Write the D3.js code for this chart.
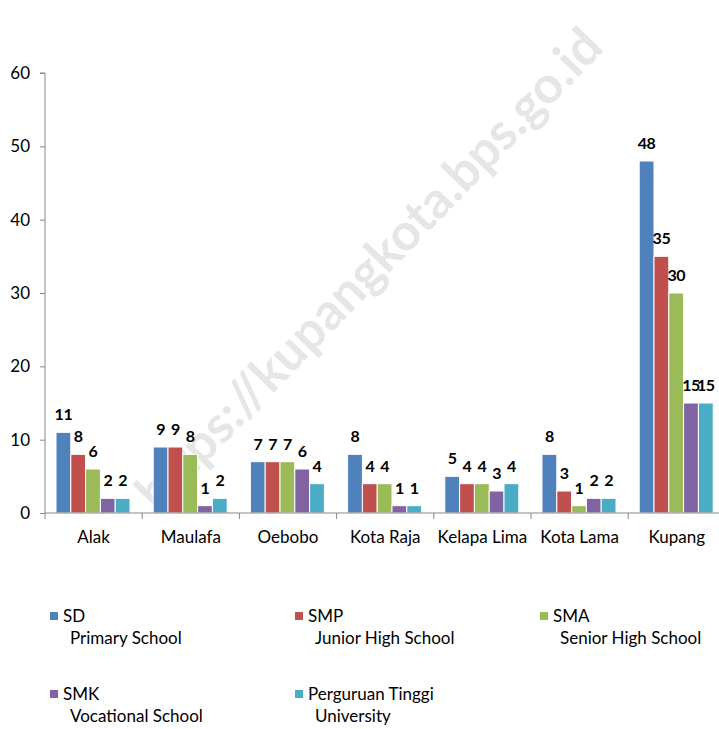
<!DOCTYPE html>
<html>
<head>
<meta charset="utf-8">
<script src="https://cdn.jsdelivr.net/npm/d3@7"></script>
<style>
  body { margin: 0; background: #fff; }
  svg { display: block; font-family: Lato, "Open Sans", sans-serif; }
</style>
</head>
<body>
<div id="chart"></div>
<script>
// data
const districts = ["Alak", "Maulafa", "Oebobo", "Kota Raja", "Kelapa Lima", "Kota Lama", "Kupang"];
const seriesNames = ["SD", "SMP", "SMA", "SMK", "Perguruan Tinggi"];
const seriesSub = ["Primary School", "Junior High School", "Senior High School", "Vocational School", "University"];
const sd = [11, 9, 7, 8, 5, 8, 48];
const smp = [8, 9, 7, 4, 4, 3, 35];
const sma = [6, 8, 7, 4, 4, 1, 30];
const smk = [2, 1, 6, 1, 3, 2, 15];
const pt = [2, 2, 4, 1, 4, 2, 15];
const yTicks = [0, 10, 20, 30, 40, 50, 60];

const colors = ["#4F81BD", "#C0504D", "#9BBB59", "#8064A2", "#4BACC6"];
const allSeries = [sd, smp, sma, smk, pt];

const width = 719, height = 729;
const margin = { left: 45, top: 73, bottom: 513 };

const svg = d3.select("#chart").append("svg")
    .attr("width", width)
    .attr("height", height);

// plot runs past the right edge like the original
const x = d3.scaleBand()
    .domain(districts)
    .range([margin.left, margin.left + 97.2 * districts.length]);

const x1 = d3.scaleBand()
    .domain(d3.range(seriesNames.length))
    .range([11, 11 + 74]);

const y = d3.scaleLinear()
    .domain([0, 60])
    .range([margin.bottom, margin.top]);

// watermark
svg.append("text")
    .attr("transform", "translate(372,272) rotate(-46)")
    .attr("text-anchor", "middle")
    .attr("dominant-baseline", "middle")
    .attr("font-size", 51)
    .attr("font-weight", "bold")
    .attr("fill", "#e6e6e6")
    .text("https://kupangkota.bps.go.id");

// bars
const groups = svg.append("g")
    .selectAll("g")
    .data(districts)
    .join("g")
    .attr("transform", d => `translate(${x(d)},0)`);

groups.selectAll("rect")
    .data((d, i) => allSeries.map((s, k) => ({ k: k, v: s[i] })))
    .join("rect")
    .attr("x", d => x1(d.k))
    .attr("y", d => y(d.v))
    .attr("width", x1.bandwidth())
    .attr("height", d => y(0) - y(d.v))
    .attr("fill", d => colors[d.k])
    .attr("stroke", "#fff")
    .attr("stroke-width", 1);

groups.selectAll("text")
    .data((d, i) => allSeries.map((s, k) => ({ k: k, v: s[i] })))
    .join("text")
    .attr("x", d => x1(d.k) + x1.bandwidth() / 2)
    .attr("y", d => y(d.v) - 12)
    .attr("text-anchor", "middle")
    .attr("font-size", 16)
    .attr("font-weight", "bold")
    .attr("letter-spacing", -0.5)
    .attr("fill", "#000")
    .text(d => d.v);

// axes
function yAxis(g) {
    g.attr("transform", `translate(${margin.left},0)`)
        .call(d3.axisLeft(y).tickValues(yTicks).tickSize(5).tickPadding(10))
        .attr("font-size", 17)
        .attr("font-family", "Lato, sans-serif");
    g.selectAll("path, line").attr("stroke", "#888");
    g.select(".domain").attr("d", `M-5,${y(60)}H0V${y(0)}`);
    g.selectAll("text").attr("fill", "#000");
}

function xAxis(g) {
    g.attr("transform", `translate(0,${margin.bottom})`);
    g.append("line")
        .attr("x1", margin.left).attr("x2", width)
        .attr("stroke", "#888");
    g.selectAll("line.tick")
        .data(districts)
        .join("line")
        .attr("class", "tick")
        .attr("x1", d => x(d)).attr("x2", d => x(d))
        .attr("y1", 0).attr("y2", 6)
        .attr("stroke", "#888");
    g.selectAll("text")
        .data(districts)
        .join("text")
        .attr("x", d => x(d) + x.bandwidth() / 2)
        .attr("y", 30)
        .attr("text-anchor", "middle")
        .attr("font-size", 17)
        .attr("fill", "#000")
        .text(d => d);
}

svg.append("g").call(yAxis);
svg.append("g").call(xAxis);

// legend
const legendPos = [[50, 612], [295, 612], [540, 612], [50, 690], [295, 690]];
const legend = svg.append("g")
    .selectAll("g")
    .data(seriesNames)
    .join("g")
    .attr("transform", (d, i) => `translate(${legendPos[i][0]},${legendPos[i][1]})`);

legend.append("rect")
    .attr("width", 8).attr("height", 8)
    .attr("fill", (d, i) => colors[i]);

legend.append("text")
    .attr("x", 13).attr("y", 10)
    .attr("font-size", 17)
    .attr("fill", "#000")
    .text(d => d);

legend.append("text")
    .attr("x", 20).attr("y", i => 32)
    .attr("font-size", 17)
    .attr("fill", "#000")
    .text((d, i) => seriesSub[i]);
</script>
</body>
</html>
